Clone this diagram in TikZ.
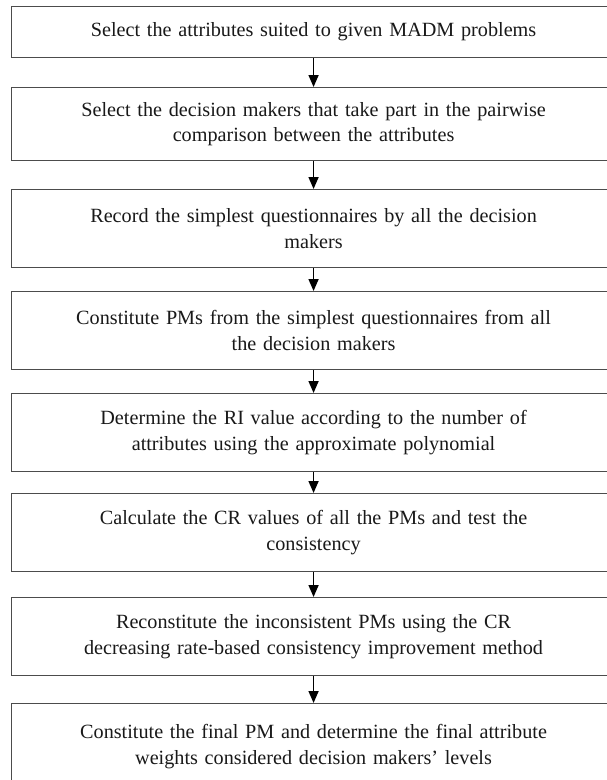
\documentclass[tikz,border=0pt]{standalone}
\usepackage{fontspec}
\setmainfont{Liberation Serif}
\usetikzlibrary{arrows.meta}

\begin{document}
\begin{tikzpicture}[x=1pt,y=1pt,
  stepbox/.style={draw=black!70,line width=1.1pt,fill=white,anchor=north west,
    minimum width=604pt,text width=580pt,align=center,
    font=\fontsize{20.2}{25.5}\selectfont,text=black!90,inner sep=0pt},
  flow/.style={line width=1.6pt,-{Triangle[length=12pt,width=10pt]}}]

  \useasboundingbox (0,0) rectangle (607,-780);

  \node[stepbox,minimum height=51pt] (s1) at (11,-6) {Select the attributes suited to given MADM problems};
\node[stepbox,minimum height=73pt] (s2) at (11,-87) {Select the decision makers that take part in the pairwise\\comparison between the attributes};
\node[stepbox,minimum height=78pt] (s3) at (11,-189) {Record the simplest questionnaires by all the decision\\makers};
\node[stepbox,minimum height=78pt] (s4) at (11,-291) {Constitute PMs from the simplest questionnaires from all\\the decision makers};
\node[stepbox,minimum height=78pt] (s5) at (11,-393) {Determine the RI value according to the number of\\attributes using the approximate polynomial};
\node[stepbox,minimum height=78pt] (s6) at (11,-493) {Calculate the CR values of all the PMs and test the\\consistency};
\node[stepbox,minimum height=78pt] (s7) at (11,-597) {Reconstitute the inconsistent PMs using the CR\\decreasing rate-based consistency improvement method};
\node[stepbox,minimum height=86pt] (s8) at (11,-703) {Constitute the final PM and determine the final attribute\\weights considered decision makers' levels};

  \foreach \a/\b in {s1/s2,s2/s3,s3/s4,s4/s5,s5/s6,s6/s7,s7/s8}
    \draw[flow] (\a.south) -- (\b.north);

\end{tikzpicture}
\end{document}
